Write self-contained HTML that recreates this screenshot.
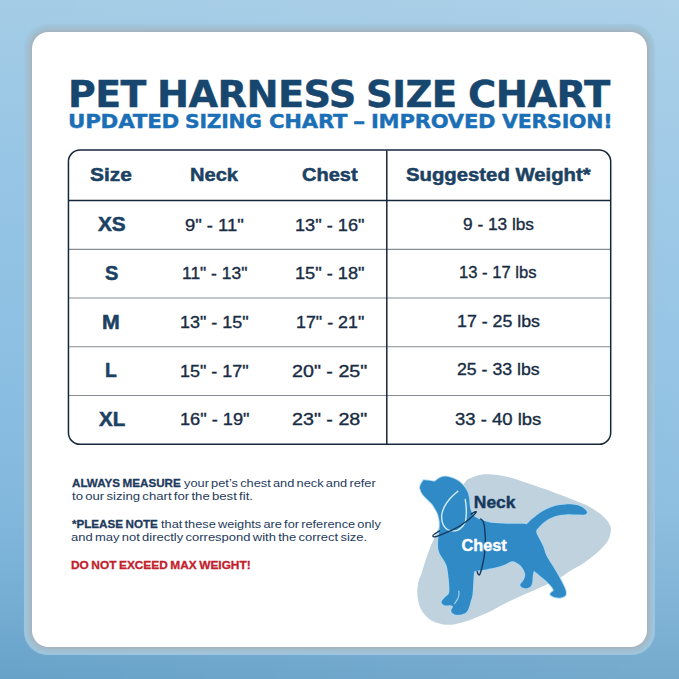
<!DOCTYPE html>
<html lang="en"><head><meta charset="utf-8"><title>Pet Harness Size Chart</title>
<style>
html,body{margin:0;padding:0}
body{background:#8dc0e3}
.page{width:679px;height:679px;overflow:hidden;position:relative;font-family:'Liberation Sans',sans-serif;
 background:linear-gradient(90deg,rgba(255,255,255,0) 0%,rgba(255,255,255,.09) 100%),linear-gradient(180deg,#a4cce6 0%,#97c5e5 25%,#8dc0e3 50%,#83b8dd 75%,#74acd2 90%,#68a2c8 100%)}
.card{position:absolute;left:32px;top:32px;width:615px;height:615px;border-radius:16.5px;background:#fff;box-shadow:0 0 0 1.3px #a4b5c1,0 0 0 2.8px #a3bac8,0 0 0 4.4px #a1bfd0,0 0 0 6px #a0c2d7,0 0 .8px 7.2px #9fc6dd}
h1,h2,p{margin:0;padding:0;font-size:0}
.t{position:absolute;margin:0;padding:0;white-space:pre;transform-origin:0 0;font-weight:400;display:block;-webkit-text-stroke-color:currentColor}
.title{font-family:'DejaVu Sans','Liberation Sans',sans-serif;font-weight:700;color:#17466f}
.sub{font-family:'DejaVu Sans','Liberation Sans',sans-serif;font-weight:700;color:#1a6fb6}
.th,.sz{font-weight:700;color:#1c4263}
.td{color:#182c43}
.note{color:#1e3a5c}
b.note{font-weight:700}
.red{color:#c2202c}
svg{position:absolute;left:0;top:0}
</style></head>
<body>
<div class="page">
<main class="card"></main>
<svg class="grid" width="679" height="679" viewBox="0 0 679 679" aria-hidden="true">
<g stroke="#878d92" stroke-width="1.1" fill="none">
<line x1="69" x2="610" y1="249.4" y2="249.4"/>
<line x1="69" x2="610" y1="298" y2="298"/>
<line x1="69" x2="610" y1="346.8" y2="346.8"/>
<line x1="69" x2="610" y1="395.5" y2="395.5"/>
</g>
<g stroke="#17273a" stroke-width="1.5" fill="none">
<line x1="69" x2="610" y1="200.5" y2="200.5"/>
<line x1="386.8" x2="386.8" y1="150.5" y2="444"/>
<rect x="68.45" y="150" width="542.25" height="294.3" rx="11.6" ry="11.6"/>
</g>
</svg>
<h1>
<span class="t title" style="left:67.67px;top:76px;font-size:37.0px;line-height:37.0px;transform:scaleX(1.0239);letter-spacing:-0.6px;-webkit-text-stroke-width:0.4px">PET</span>
<span class="t title" style="left:157.33px;top:76px;font-size:37.0px;line-height:37.0px;transform:scaleX(1.0365);letter-spacing:-0.6px;-webkit-text-stroke-width:0.4px">HARNESS</span>
<span class="t title" style="left:365.59px;top:76px;font-size:37.0px;line-height:37.0px;transform:scaleX(1.0041);letter-spacing:-0.6px;-webkit-text-stroke-width:0.4px">SIZE</span>
<span class="t title" style="left:468.18px;top:76px;font-size:37.0px;line-height:37.0px;transform:scaleX(1.0427);letter-spacing:-0.6px;-webkit-text-stroke-width:0.4px">CHART</span>
</h1>
<h2>
<span class="t sub" style="left:68.01px;top:112px;font-size:19.0px;line-height:19.0px;transform:scaleX(1.1264);letter-spacing:-0.2px;-webkit-text-stroke-width:0.4px">UPDATED</span>
<span class="t sub" style="left:185.26px;top:112px;font-size:19.0px;line-height:19.0px;transform:scaleX(1.0681);letter-spacing:-0.2px;-webkit-text-stroke-width:0.4px">SIZING</span>
<span class="t sub" style="left:268.96px;top:112px;font-size:19.0px;line-height:19.0px;transform:scaleX(1.1140);letter-spacing:-0.2px;-webkit-text-stroke-width:0.4px">CHART</span>
<span class="t sub" style="left:352.93px;top:112px;font-size:19.0px;line-height:19.0px;transform:scaleX(1.2875);letter-spacing:-0.2px;-webkit-text-stroke-width:0.4px">–</span>
<span class="t sub" style="left:370.63px;top:112px;font-size:19.0px;line-height:19.0px;transform:scaleX(1.1100);letter-spacing:-0.2px;-webkit-text-stroke-width:0.4px">IMPROVED</span>
<span class="t sub" style="left:501.87px;top:112px;font-size:19.0px;line-height:19.0px;transform:scaleX(1.0803);letter-spacing:-0.2px;-webkit-text-stroke-width:0.4px">VERSION!</span>
</h2>
<div class="t th" style="left:90.42px;top:166px;font-size:18.4px;line-height:18.4px;transform:scaleX(1.1393);-webkit-text-stroke-width:0.5px">Size</div>
<div class="t th" style="left:190.21px;top:166px;font-size:18.4px;line-height:18.4px;transform:scaleX(1.0920);-webkit-text-stroke-width:0.5px">Neck</div>
<div class="t th" style="left:302.16px;top:166px;font-size:18.4px;line-height:18.4px;transform:scaleX(1.0877);-webkit-text-stroke-width:0.5px">Chest</div>
<div class="t th" style="left:405.92px;top:166px;font-size:18.4px;line-height:18.4px;transform:scaleX(1.1043);-webkit-text-stroke-width:0.5px">Suggested Weight*</div>
<div class="t sz" style="left:97.97px;top:215px;font-size:19.6px;line-height:19.6px;transform:scaleX(1.0602);-webkit-text-stroke-width:0.5px">XS</div>
<div class="t sz" style="left:104.64px;top:264px;font-size:19.6px;line-height:19.6px;transform:scaleX(1.0204);-webkit-text-stroke-width:0.5px">S</div>
<div class="t sz" style="left:102.31px;top:313px;font-size:19.6px;line-height:19.6px;transform:scaleX(1.0877);-webkit-text-stroke-width:0.5px">M</div>
<div class="t sz" style="left:105.31px;top:361px;font-size:19.6px;line-height:19.6px;transform:scaleX(0.9860);-webkit-text-stroke-width:0.5px">L</div>
<div class="t sz" style="left:98.56px;top:410px;font-size:19.6px;line-height:19.6px;transform:scaleX(1.0480);-webkit-text-stroke-width:0.5px">XL</div>
<div class="t td" style="left:185.44px;top:217px;font-size:16.4px;line-height:16.4px;transform:scaleX(1.1220);-webkit-text-stroke-width:0.35px">9" - 11"</div>
<div class="t td" style="left:181.94px;top:265px;font-size:16.4px;line-height:16.4px;transform:scaleX(1.0633);-webkit-text-stroke-width:0.35px">11" - 13"</div>
<div class="t td" style="left:180.20px;top:314px;font-size:16.4px;line-height:16.4px;transform:scaleX(1.0955);-webkit-text-stroke-width:0.35px">13" - 15"</div>
<div class="t td" style="left:180.20px;top:363px;font-size:16.4px;line-height:16.4px;transform:scaleX(1.0955);-webkit-text-stroke-width:0.35px">15" - 17"</div>
<div class="t td" style="left:179.59px;top:411px;font-size:16.4px;line-height:16.4px;transform:scaleX(1.1102);-webkit-text-stroke-width:0.35px">16" - 19"</div>
<div class="t td" style="left:295.29px;top:217px;font-size:16.4px;line-height:16.4px;transform:scaleX(1.1086);-webkit-text-stroke-width:0.35px">13" - 16"</div>
<div class="t td" style="left:295.29px;top:265px;font-size:16.4px;line-height:16.4px;transform:scaleX(1.1102);-webkit-text-stroke-width:0.35px">15" - 18"</div>
<div class="t td" style="left:295.71px;top:314px;font-size:16.4px;line-height:16.4px;transform:scaleX(1.0890);-webkit-text-stroke-width:0.35px">17" - 21"</div>
<div class="t td" style="left:292.20px;top:363px;font-size:16.4px;line-height:16.4px;transform:scaleX(1.2016);-webkit-text-stroke-width:0.35px">20" - 25"</div>
<div class="t td" style="left:292.20px;top:411px;font-size:16.4px;line-height:16.4px;transform:scaleX(1.2016);-webkit-text-stroke-width:0.35px">23" - 28"</div>
<div class="t td" style="left:463.17px;top:216px;font-size:16.4px;line-height:16.4px;transform:scaleX(1.0526);-webkit-text-stroke-width:0.35px">9 - 13 lbs</div>
<div class="t td" style="left:458.99px;top:264px;font-size:16.4px;line-height:16.4px;transform:scaleX(1.0133);-webkit-text-stroke-width:0.35px">13 - 17 lbs</div>
<div class="t td" style="left:456.52px;top:313px;font-size:16.4px;line-height:16.4px;transform:scaleX(1.0840);-webkit-text-stroke-width:0.35px">17 - 25 lbs</div>
<div class="t td" style="left:456.79px;top:361px;font-size:16.4px;line-height:16.4px;transform:scaleX(1.0804);-webkit-text-stroke-width:0.35px">25 - 33 lbs</div>
<div class="t td" style="left:454.94px;top:411px;font-size:16.4px;line-height:16.4px;transform:scaleX(1.1272);-webkit-text-stroke-width:0.35px">33 - 40 lbs</div>
<p>
<b class="t note" style="left:71.55px;top:477px;font-size:11.6px;line-height:11.6px;transform:scaleX(1.0032);word-spacing:-0.7px;-webkit-text-stroke-width:0.3px">ALWAYS MEASURE</b>
<span class="t note" style="left:183.70px;top:477px;font-size:11.6px;line-height:11.6px;transform:scaleX(1.1037);word-spacing:-1.2px">your pet’s chest and neck and refer</span>
<span class="t note" style="left:71.52px;top:490px;font-size:11.6px;line-height:11.6px;transform:scaleX(1.1325);word-spacing:-1.2px">to our sizing chart for the best fit.</span>
</p>
<p>
<b class="t note" style="left:71.80px;top:518px;font-size:11.6px;line-height:11.6px;transform:scaleX(1.0018);word-spacing:-0.7px;-webkit-text-stroke-width:0.3px">*PLEASE NOTE</b>
<span class="t note" style="left:161.32px;top:518px;font-size:11.6px;line-height:11.6px;transform:scaleX(1.1006);word-spacing:-1.2px">that these weights are for reference only</span>
<span class="t note" style="left:71.24px;top:531px;font-size:11.6px;line-height:11.6px;transform:scaleX(1.1208);word-spacing:-1.2px">and may not directly correspond with the correct size.</span>
</p>
<p>
<b class="t note red" style="left:71.29px;top:559px;font-size:11.6px;line-height:11.6px;transform:scaleX(1.0227);word-spacing:-0.7px;-webkit-text-stroke-width:0.3px">DO NOT EXCEED MAX WEIGHT!</b>
</p>
<svg width="679" height="679" viewBox="0 0 679 679">
<path d="M464.7,482.8C468.9,477.1 468.5,479.4 471.2,478.0C473.9,476.6 477.4,475.3 480.9,474.7C484.4,474.1 488.5,474.2 492.3,474.4C496.1,474.6 499.0,475.0 503.6,476.0C508.2,477.0 514.4,478.7 519.8,480.4C525.2,482.1 530.6,484.2 536.0,486.1C541.4,488.0 546.6,489.6 552.2,491.7C557.8,493.8 564.3,496.3 569.7,498.4C575.1,500.5 580.1,502.2 584.5,504.3C588.9,506.4 592.8,508.6 596.2,510.9C599.6,513.2 602.8,515.8 605.1,518.3C607.4,520.8 609.3,523.5 610.2,525.7C611.1,527.9 611.1,529.0 610.7,531.5C610.3,534.0 609.9,537.2 608.0,540.4C606.1,543.6 603.1,547.0 599.2,550.7C595.3,554.4 589.4,559.1 584.5,562.5C579.6,565.9 573.6,568.8 569.7,571.3C565.8,573.8 565.4,574.7 560.9,577.2C556.4,579.7 548.9,583.4 543.0,586.2C537.1,589.0 531.2,591.5 525.3,594.1C519.4,596.8 513.2,599.4 507.7,602.1C502.2,604.8 496.8,608.2 492.2,610.5C487.6,612.8 484.5,614.0 480.3,615.8C476.1,617.6 471.4,619.7 467.0,621.1C462.6,622.5 457.7,623.9 453.7,624.4C449.7,624.9 446.6,624.9 443.1,624.4C439.6,623.9 435.6,622.8 432.5,621.1C429.4,619.5 426.8,617.1 424.6,614.5C422.4,611.9 420.5,608.7 419.3,605.2C418.1,601.7 417.5,597.2 417.3,593.3C417.1,589.4 417.7,585.3 418.4,582.0C419.1,578.7 420.4,576.9 421.5,573.6C422.6,570.3 423.7,566.1 425.0,562.1C426.3,558.1 427.9,553.5 429.4,549.7C430.9,545.9 431.1,545.4 433.9,539.1C436.7,532.8 440.9,521.4 446.0,512.0C451.1,502.6 460.5,488.5 464.7,482.8Z" fill="#bfd2de"/>
<path d="M423.4,480.2C423.4,480.2 426.5,480.4 428.3,480.6C430.1,480.8 432.6,481.6 434.0,481.5C435.4,481.4 435.5,480.9 436.6,480.2C437.7,479.5 439.1,478.1 440.6,477.5C442.2,476.9 444.0,476.5 445.9,476.6C447.8,476.7 450.0,477.3 452.1,478.0C454.2,478.7 456.4,479.7 458.3,481.0C460.2,482.3 462.1,484.2 463.6,485.9C465.1,487.6 466.2,489.4 467.1,491.2C468.0,493.0 468.5,494.5 468.9,496.5C469.3,498.5 469.4,500.9 469.6,503.0C469.9,505.1 469.5,506.5 470.4,508.8C471.3,511.1 471.9,514.6 474.8,516.8C477.7,519.0 483.4,521.0 488.0,522.1C492.6,523.2 496.6,523.2 502.1,523.5C507.6,523.8 516.9,523.7 521.0,523.8C525.1,523.9 526.8,524.3 526.8,524.3C526.8,524.3 530.2,520.7 532.7,518.6C535.2,516.5 538.6,513.6 542.1,511.5C545.6,509.4 550.0,507.4 553.9,506.2C557.8,505.0 562.0,504.6 565.7,504.4C569.4,504.2 573.4,504.4 576.3,505.0C579.2,505.6 581.5,506.8 583.3,508.0C585.1,509.2 586.7,511.0 586.9,512.1C587.1,513.2 586.3,514.2 584.5,514.6C582.7,515.0 579.4,514.6 576.3,514.6C573.2,514.6 569.2,514.1 565.7,514.4C562.2,514.7 558.5,515.1 555.1,516.2C551.8,517.3 548.4,519.0 545.6,520.9C542.9,522.8 540.2,525.6 538.6,527.4C537.0,529.2 536.2,529.8 536.2,531.5C536.2,533.2 537.4,534.9 538.6,537.4C539.8,539.9 541.9,543.5 543.2,546.5C544.5,549.5 544.7,552.1 546.2,555.3C547.7,558.5 550.3,562.2 552.4,565.6C554.5,569.0 556.7,572.5 558.6,575.9C560.5,579.3 562.6,583.6 563.8,586.2C565.0,588.8 565.5,589.9 565.8,591.4C566.0,592.9 566.1,594.5 565.3,595.5C564.4,596.5 562.5,597.3 560.7,597.6C558.9,597.9 556.2,597.6 554.5,597.1C552.8,596.6 550.9,595.3 550.4,594.5C549.9,593.7 550.9,593.1 551.4,592.4C551.9,591.7 553.6,591.4 553.6,590.4C553.6,589.4 552.8,587.9 551.4,586.2C550.0,584.5 547.3,582.0 545.2,580.1C543.1,578.2 540.9,576.5 539.0,574.9C537.1,573.3 533.9,570.8 533.9,570.8C533.9,570.8 533.1,574.0 532.8,575.9C532.5,577.8 532.6,580.4 532.3,582.1C532.0,583.8 531.8,585.2 530.8,586.2C529.8,587.2 528.1,588.1 526.6,588.3C525.1,588.5 523.0,587.9 522.0,587.3C521.0,586.7 520.1,585.7 520.3,584.7C520.5,583.7 522.2,582.6 523.0,581.1C523.8,579.6 524.9,577.6 525.1,575.9C525.3,574.2 524.9,572.5 524.1,570.8C523.3,569.1 522.0,567.1 520.5,565.6C519.0,564.1 516.8,562.7 515.3,562.0C513.8,561.3 512.9,561.1 511.2,561.5C509.5,561.9 507.1,563.7 505.0,564.6C502.9,565.5 500.8,566.1 498.4,566.8C495.9,567.5 492.7,568.1 490.3,568.6C487.9,569.1 486.8,569.4 484.2,569.8C481.6,570.2 474.8,571.2 474.8,571.2C474.8,571.2 474.3,570.8 474.0,573.3C473.7,575.8 473.4,582.7 473.1,586.5C472.8,590.3 472.7,593.5 472.3,595.9C471.9,598.2 471.4,598.8 470.9,600.6C470.4,602.4 469.9,604.9 469.2,606.8C468.5,608.7 467.7,610.9 466.5,612.1C465.3,613.4 463.9,613.8 462.1,614.3C460.3,614.8 457.5,615.0 455.9,614.8C454.3,614.6 453.2,613.7 452.4,613.0C451.6,612.3 451.2,611.7 451.3,610.6C451.4,609.5 453.2,606.6 453.2,606.6C453.2,606.6 451.9,605.4 450.6,605.2C449.3,605.0 446.7,605.8 445.3,605.5C443.9,605.2 442.8,604.4 442.2,603.7C441.6,603.0 441.3,602.3 441.8,601.2C442.3,600.1 444.1,598.4 445.3,597.1C446.5,595.8 448.2,595.4 448.9,593.6C449.6,591.8 449.4,589.1 449.3,586.5C449.2,583.9 449.0,581.2 448.6,578.0C448.2,574.8 447.8,570.2 447.1,567.4C446.4,564.6 445.6,563.3 444.5,561.2C443.4,559.1 441.5,557.0 440.5,555.0C439.5,553.0 438.7,551.7 438.3,548.9C437.9,546.1 438.1,541.4 438.3,538.3C438.5,535.1 439.3,532.7 439.5,530.0C439.7,527.3 439.9,524.6 439.7,522.0C439.4,519.4 438.7,516.4 438.0,514.2C437.3,512.0 436.3,510.6 435.3,508.9C434.3,507.2 433.5,505.6 432.2,504.0C430.9,502.4 429.0,500.9 427.4,499.2C425.8,497.5 423.7,495.6 422.5,493.9C421.3,492.2 420.7,490.3 420.3,489.0C419.9,487.7 419.8,487.4 420.3,485.9C420.8,484.4 423.4,480.2 423.4,480.2Z" fill="#2f8ac6" stroke="#a9d7f3" stroke-width="1.8" stroke-linejoin="round" paint-order="stroke"/>
<path d="M457.8,491.2C456.6,492.4 452.5,495.8 450.3,498.3C448.1,500.8 446.0,503.7 444.6,506.4C443.2,509.1 442.2,511.8 441.8,514.5C441.4,517.2 441.8,520.3 442.4,522.6C443.0,524.9 444.3,527.0 445.7,528.3C447.1,529.6 448.7,530.3 450.6,530.6C452.5,530.9 455.2,531.0 457.2,530.3C459.2,529.6 461.1,528.0 462.5,526.5C463.9,525.0 464.9,523.4 465.5,521.2C466.1,519.0 466.2,516.0 466.3,513.3C466.4,510.6 466.2,507.3 466.0,505.0C465.8,502.7 465.3,500.4 465.2,499.5" fill="none" stroke="#d6effc" stroke-width="1.35" stroke-linecap="round"/>
<path d="M454.6,603.6C455.1,602.8 456.9,600.5 457.6,599.0C458.3,597.5 458.8,595.8 459.0,594.5C459.2,593.2 458.8,591.6 458.8,591.0" fill="none" stroke="#a9d7f3" stroke-width="1.1" stroke-linecap="round"/>
<path d="M439.5,530.9C438.7,531.4 435.7,533.2 434.6,534.0C433.5,534.8 432.7,535.4 432.8,535.9C432.9,536.4 433.7,537.0 435.1,536.8C436.5,536.6 438.8,535.6 441.3,534.6C443.8,533.6 447.2,532.2 450.1,530.9C453.0,529.5 455.9,528.3 458.9,526.5C461.8,524.7 465.4,522.2 467.8,520.3C470.2,518.4 472.1,516.6 473.5,515.2C474.9,513.8 476.2,512.3 476.3,511.8C476.4,511.3 474.8,511.9 473.9,512.3C473.0,512.7 471.5,513.9 471.0,514.2" fill="none" stroke="#15395c" stroke-width="1.4" stroke-linecap="round" stroke-linejoin="round"/>
<path d="M480.6,518.9C481.0,519.3 482.5,520.0 483.2,521.5C483.9,523.0 484.2,524.2 484.6,528.0C485.0,531.8 485.5,539.5 485.4,544.2C485.3,548.9 484.8,552.0 484.2,556.0C483.6,560.0 482.6,564.9 481.8,568.0C481.0,571.1 480.3,573.7 479.6,574.6C478.9,575.5 478.2,574.1 477.8,573.6C477.4,573.1 477.3,571.8 477.2,571.4" fill="none" stroke="#15395c" stroke-width="1.4" stroke-linecap="round" stroke-linejoin="round"/>
<text x="473.8" y="508" font-family="'Liberation Sans',sans-serif" font-weight="700" font-size="16.4" fill="#15395c" stroke="#15395c" stroke-width="0.4" textLength="41.65" lengthAdjust="spacingAndGlyphs">Neck</text>
<text x="461.5" y="551" font-family="'Liberation Sans',sans-serif" font-weight="700" font-size="16.4" fill="#ffffff" stroke="#ffffff" stroke-width="0.4" textLength="45.2" lengthAdjust="spacingAndGlyphs">Chest</text>
</svg>
</div>
</body></html>
